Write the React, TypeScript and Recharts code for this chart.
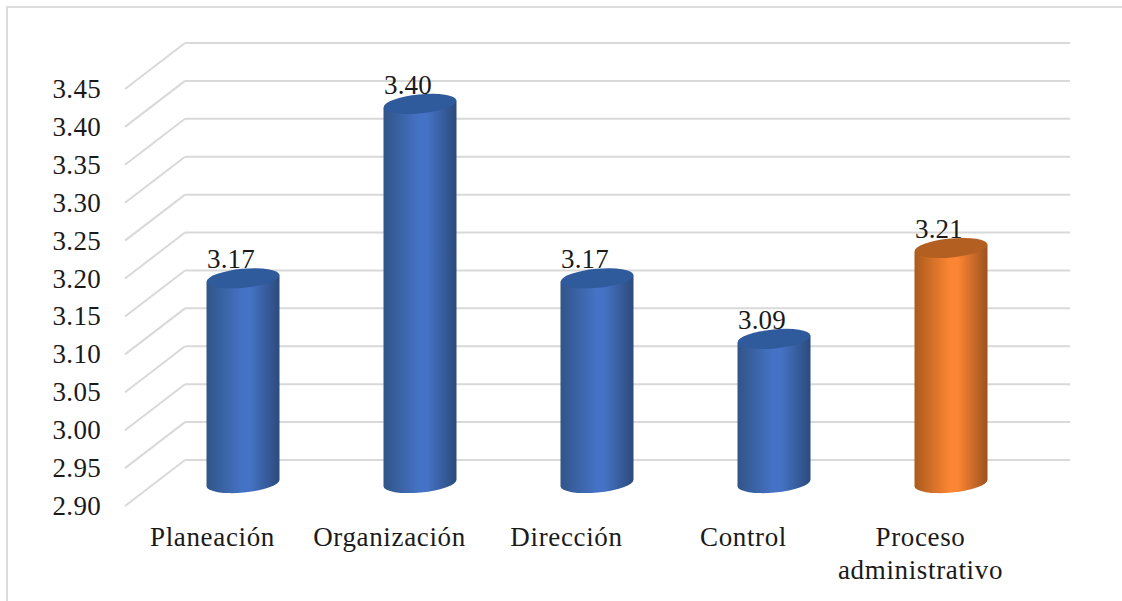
import { Bar, BarChart, CartesianGrid, Cell, LabelList, XAxis, YAxis } from "recharts";

const categories = ["Planeación", "Organización", "Dirección", "Control", "Proceso administrativo"];
const scores = [3.17, 3.4, 3.17, 3.09, 3.21];
const barTones = ["blue", "blue", "blue", "blue", "orange"];
const yTicks = [2.9, 2.95, 3.0, 3.05, 3.1, 3.15, 3.2, 3.25, 3.3, 3.35, 3.4, 3.45];

const rows = categories.map((name, i) => ({ name, score: scores[i], tone: barTones[i] }));

// floor depth of the fake 3D box: wall is shifted up and right from the axis
const DEPTH_X = 60;
const DEPTH_Y = 46;
const BAR_SHIFT_X = 30.5;
const FONT = "'Liberation Serif', 'Times New Roman', serif";
const TEXT = "#1a1a1a";
const GRID = "#d9d9d9";

const caps: Record<string, string> = { blue: "#2f5a9c", orange: "#b35f22" };

function Gradient({ id, edgeL, mid, edgeR }: { id: string; edgeL: string; mid: string; edgeR: string }) {
  return (
    <linearGradient id={id} x1="0" y1="0" x2="1" y2="0">
      <stop offset="0%" stopColor={edgeL} />
      <stop offset="48%" stopColor={mid} />
      <stop offset="60%" stopColor={mid} />
      <stop offset="100%" stopColor={edgeR} />
    </linearGradient>
  );
}

// Tilted cylinder standing in the middle of the box depth
function Cylinder(props: any) {
  const { x, y, width, height, payload } = props;
  const left = x - BAR_SHIFT_X;
  const right = left + width;
  const top = y + DEPTH_Y / 2;
  const bottom = top + height;
  const rx = width / 2;
  const ry = 9.5;
  const tilt = 3.5;
  const body =
    `M${left},${top + tilt} L${left},${bottom + tilt} ` +
    `A${rx} ${ry} -5.5 0 0 ${right},${bottom - tilt} L${right},${top - tilt} Z`;
  return (
    <g>
      <path d={body} fill={`url(#cyl-${payload.tone})`} />
      <ellipse
        cx={left + rx}
        cy={top}
        rx={rx}
        ry={ry}
        fill={caps[payload.tone]}
        transform={`rotate(-5.5 ${left + rx} ${top})`}
      />
    </g>
  );
}

function ValueLabel(props: any) {
  const { x, y, width, value } = props;
  return (
    <text
      x={x + width / 2 - BAR_SHIFT_X - 12}
      y={y + DEPTH_Y / 2 - 10}
      textAnchor="middle"
      fontFamily={FONT}
      fontSize={27}
      letterSpacing={0.2}
      fill={TEXT}
    >
      {Number(value).toFixed(2)}
    </text>
  );
}

function WallTick(props: any) {
  const { x, y, payload } = props;
  return (
    <g>
      <line x1={x} y1={y} x2={x - DEPTH_X} y2={y + DEPTH_Y} stroke={GRID} strokeWidth={2} />
      <text
        x={x - 84}
        y={y + DEPTH_Y + 9}
        textAnchor="end"
        fontFamily={FONT}
        fontSize={27}
        letterSpacing={0.3}
        fill={TEXT}
      >
        {Number(payload.value).toFixed(2)}
      </text>
    </g>
  );
}

function CategoryTick(props: any) {
  const { x, payload } = props;
  const label: string = payload.value;
  const lines = label.length > 14 ? label.split(" ") : [label];
  return (
    <text textAnchor="middle" fontFamily={FONT} fontSize={27} letterSpacing={0.65} fill={TEXT}>
      {lines.map((line, i) => (
        <tspan key={line} x={x - 61} y={546 + i * 33}>
          {line}
        </tspan>
      ))}
    </text>
  );
}

export default function App() {
  return (
    <div
      style={{
        position: "absolute",
        left: 0,
        top: 0,
        width: 1122,
        height: 601,
        overflow: "hidden",
        background: "#fff",
      }}
    >
      <div
        style={{
          position: "absolute",
          left: 6,
          top: 6,
          width: 1130,
          height: 610,
          border: "2px solid #dcdcdc",
          boxSizing: "border-box",
        }}
      />
      <BarChart
        width={1122}
        height={601}
        data={rows}
        margin={{ top: 43, right: 52, bottom: 0, left: 0 }}
        style={{ position: "absolute", left: 0, top: 0 }}
      >
        <defs>
          <Gradient id="cyl-blue" edgeL="#315588" mid="#4472c4" edgeR="#2c4b7c" />
          <Gradient id="cyl-orange" edgeL="#ab5a1e" mid="#fb8532" edgeR="#9c5220" />
        </defs>
        <CartesianGrid horizontal vertical={false} stroke={GRID} strokeWidth={2} />
        <XAxis
          dataKey="name"
          axisLine={false}
          tickLine={false}
          height={141}
          interval={0}
          tick={<CategoryTick />}
        />
        <YAxis
          type="number"
          width={185}
          domain={[2.9, 3.45]}
          ticks={yTicks}
          axisLine={false}
          tickLine={false}
          tickSize={0}
          tickMargin={0}
          interval={0}
          tick={<WallTick />}
        />
        <Bar dataKey="score" barSize={73} isAnimationActive={false} shape={<Cylinder />}>
          {rows.map((r) => (
            <Cell key={r.name} fill={r.tone} />
          ))}
          <LabelList dataKey="score" content={<ValueLabel />} />
        </Bar>
      </BarChart>
    </div>
  );
}
